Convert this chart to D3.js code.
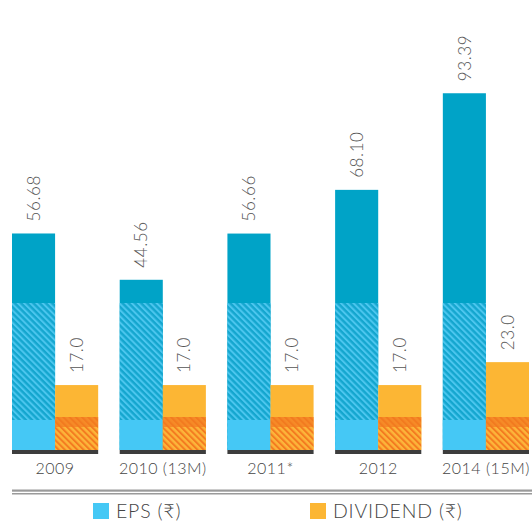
<!DOCTYPE html>
<html lang="en">
  <head>
    <meta charset="utf-8">
    <title>EPS and dividend</title>
    <script src="https://unpkg.com/d3@7/dist/d3.min.js"></script>
    <style type="text/css">
body,html{
    margin: 0;
    padding: 0;
    background: #fff;
    font-family: "Lato", "Noto Sans", sans-serif;
  }
text{ font-weight: 300; }
    </style>
  </head>
  <body>
    <script type="text/javascript">
      let w = 532;
      let h = 523;

      // values
      const years = ["2009", "2010 (13M)", "2011*", "2012", "2014 (15M)"];
      const eps = [56.68, 44.56, 56.66, 68.10, 93.39];
      const dividend = [17.0, 17.0, 17.0, 17.0, 23.0];
      const epsLabels = ["56.68", "44.56", "56.66", "68.10", "93.39"];
      const divLabels = ["17.0", "17.0", "17.0", "17.0", "23.0"];
      const legendNames = ["EPS (\u20B9)", "DIVIDEND (\u20B9)"];

      const baseY = 450;

      const svg = d3.select("body")
        .append("svg")
        .attr("width", w)
        .attr("height", h);

      const defs = svg.append("defs");
      // diagonal stripes
      function stripes(id, bg, fg) {
        const p = defs.append("pattern")
          .attr("id", id)
          .attr("patternUnits", "userSpaceOnUse")
          .attr("width", 4.4)
          .attr("height", 4.4)
          .attr("patternTransform", "rotate(-45)");
        p.append("rect").attr("width", 4.4).attr("height", 4.4).attr("fill", bg);
        p.append("rect").attr("width", 2).attr("height", 4.4).attr("fill", fg);
      }
      stripes("hatchBlue", "#14a6cf", "#4cc6ee");
      stripes("hatchOrange", "#fcb53a", "#f47b20");
      stripes("hatchBand", "#f68a27", "#f27a1f");

      const x = d3.scaleBand()
        .domain(years)
        .range([12, 529])
        .paddingInner(0.2);

      const x1 = d3.scaleBand()
        .domain(["eps", "div"])
        .range([0, x.bandwidth()]);

      const y = d3.scaleLinear()
        .domain([0, 100])
        .range([baseY, 68]);

      const rows = years.map((yr, i) => ({
        year: yr, eps: eps[i], div: dividend[i],
        epsLabel: epsLabels[i], divLabel: divLabels[i]
      }));

      const g = svg.selectAll("g.year")
        .data(rows)
        .enter()
        .append("g")
        .attr("class", "year")
        .attr("transform", d => "translate(" + x(d.year) + ",0)");

      const bw = x1.bandwidth();

      // EPS bar: dark top, hatched middle, light bottom
      g.append("rect")
        .attr("x", x1("eps"))
        .attr("y", d => y(d.eps))
        .attr("width", bw)
        .attr("height", d => baseY - y(d.eps))
        .attr("fill", "#00a3c7");
      g.append("rect")
        .attr("x", x1("eps"))
        .attr("y", d => Math.max(y(d.eps), baseY - 147))
        .attr("width", bw)
        .attr("height", d => baseY - Math.max(y(d.eps), baseY - 147))
        .attr("fill", "url(#hatchBlue)");
      g.append("rect")
        .attr("x", x1("eps"))
        .attr("y", baseY - 30)
        .attr("width", bw)
        .attr("height", 30)
        .attr("fill", "#45c8f5");

      // dividend bar: solid top, darker band, hatched bottom
      g.append("rect")
        .attr("x", x1("div"))
        .attr("y", d => y(d.div))
        .attr("width", bw)
        .attr("height", d => baseY - y(d.div))
        .attr("fill", "#fcb634");
      g.append("rect")
        .attr("x", x1("div"))
        .attr("y", baseY - 33)
        .attr("width", bw)
        .attr("height", 10)
        .attr("fill", "url(#hatchBand)");
      g.append("rect")
        .attr("x", x1("div"))
        .attr("y", baseY - 23)
        .attr("width", bw)
        .attr("height", 23)
        .attr("fill", "url(#hatchOrange)");

      // dark base under each pair
      g.append("rect")
        .attr("x", 0)
        .attr("y", baseY)
        .attr("width", x.bandwidth())
        .attr("height", 4)
        .attr("fill", "#3d3d3d");

      // value labels, rotated
      g.append("text")
        .attr("transform", d => "translate(" + (x1("eps") + bw / 2) + "," + (y(d.eps) - 12) + ") rotate(-90)")
        .attr("dy", "0.36em")
        .attr("font-size", 17)
        .attr("letter-spacing", 0.6)
        .attr("fill", "#555")
        .text(d => d.epsLabel);
      g.append("text")
        .attr("transform", d => "translate(" + (x1("div") + bw / 2) + "," + (y(d.div) - 12) + ") rotate(-90)")
        .attr("dy", "0.36em")
        .attr("font-size", 17)
        .attr("letter-spacing", 0.6)
        .attr("fill", "#555")
        .text(d => d.divLabel);

      // category labels
      g.append("text")
        .attr("x", x.bandwidth() / 2)
        .attr("y", 474)
        .attr("text-anchor", "middle")
        .attr("font-size", 16)
        .attr("letter-spacing", 0.5)
        .attr("fill", "#444")
        .text(d => d.year);

      // double rule
      svg.append("rect").attr("x", 12).attr("y", 489.5).attr("width", w - 12).attr("height", 2.2).attr("fill", "#9a9a9a");
      svg.append("rect").attr("x", 12).attr("y", 493).attr("width", w - 12).attr("height", 1.5).attr("fill", "#9a9a9a");

      // legend
      const legend = svg.selectAll("g.legend")
        .data(legendNames)
        .enter()
        .append("g")
        .attr("class", "legend")
        .attr("transform", (d, i) => "translate(" + (i == 0 ? 93 : 310) + ",503)");
      legend.append("rect")
        .attr("width", 16)
        .attr("height", 16)
        .attr("fill", (d, i) => i == 0 ? "#45c8f5" : "#fcb634");
      legend.append("text")
        .attr("x", 23)
        .attr("y", 15)
        .attr("font-size", 19.5)
        .attr("letter-spacing", 0.8)
        .attr("fill", "#444")
        .text(d => d);
    </script>
  </body>
</html>
